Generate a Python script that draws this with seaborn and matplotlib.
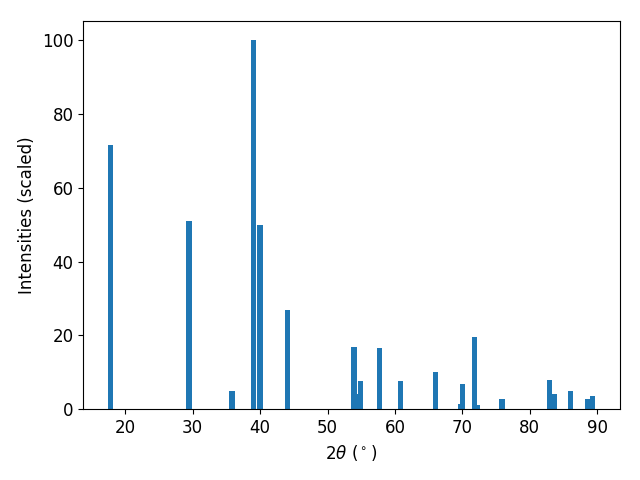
import numpy as np
import pandas as pd
import matplotlib
matplotlib.use("Agg")
import matplotlib.pyplot as plt
import seaborn as sns

# peak positions (2theta, degrees) and scaled intensities
two_theta = [17.77, 29.43, 35.82, 39.02, 39.99, 44.07, 53.95, 54.30, 54.90,
             57.67, 60.86, 65.99, 69.70, 70.00, 71.78, 72.20, 75.87, 82.93,
             83.67, 86.05, 88.65, 89.30]
intensity = [71.5, 50.9, 5.0, 100.0, 49.9, 26.8, 16.8, 4.3, 7.6,
             16.5, 7.6, 10.0, 1.4, 7.0, 19.5, 1.1, 2.7, 7.9,
             4.3, 5.1, 2.7, 3.5]

df = pd.DataFrame({"two_theta": two_theta, "intensity": intensity})

plt.rcParams["font.size"] = 12

fig, ax = plt.subplots(figsize=(6.4, 4.8), dpi=100)

# seaborn scales bar width by the smallest gap between positions on a native axis
bar_width = 0.8
min_gap = np.diff(np.sort(df["two_theta"].unique())).min()

sns.barplot(data=df, x="two_theta", y="intensity", native_scale=True,
            width=bar_width / min_gap, color="#1f77b4", saturation=1,
            errorbar=None, linewidth=0, ax=ax)

ax.set_xlabel(r"$2\theta$ ($^\circ$)")
ax.set_ylabel("Intensities (scaled)")

fig.subplots_adjust(left=0.130, right=0.968, top=0.956, bottom=0.147)
plt.savefig("out.png")
